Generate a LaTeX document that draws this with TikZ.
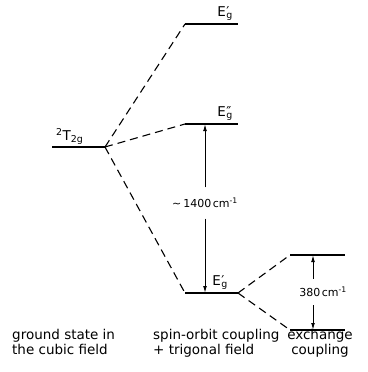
\documentclass[tikz,border=0pt]{standalone}
\usepackage{fontspec}
\setmainfont{DejaVu Sans}
\usetikzlibrary{positioning,arrows.meta,calc}
\newcommand{\Eg}[1]{E\kern0.5pt\rlap{#1}\textsubscript{g}}

\begin{document}
\begin{tikzpicture}[x=1pt,y=-1pt,>={Latex[length=7pt,width=3.8pt]},
    level/.style={line width=2.2pt},
    link/.style={line width=1.1pt,dash pattern=on 8pt off 5pt},
    gap/.style={line width=1pt},
    lbl/.style={font=\fontsize{13.5}{15}\selectfont,inner sep=1pt},
    val/.style={font=\fontsize{11}{13}\selectfont,inner sep=1pt},
    caption/.style={font=\fontsize{13.5}{15}\selectfont,align=left,inner sep=0pt}]
  \useasboundingbox (0,0) rectangle (367,372);
  % levels
  \coordinate (t0) at (52,147);  \coordinate (t1) at (105,147);
  \coordinate (a0) at (185,24);  \coordinate (a1) at (238,24);
  \coordinate (b0) at (185,124); \coordinate (b1) at (238,124);
  \coordinate (c0) at (185,293); \coordinate (c1) at (238,293);
  \coordinate (d0) at (290,255); \coordinate (d1) at (345,255);
  \coordinate (f0) at (290,330); \coordinate (f1) at (345,330);
  \foreach \p in {t,a,b,c,d,f} \draw[level] (\p0) -- (\p1);
  \draw[link] (t1) -- (a0);
  \draw[link] (t1) -- (b0);
  \draw[link] (t1) -- (c0);
  \draw[link] (c1) -- (d0);
  \draw[link] (c1) -- (f0);
  % level names
  \node[lbl,anchor=south west] (lt) at (55,146) {\textsuperscript{2}T\textsubscript{2g}};
  \node[lbl,anchor=south east] (la) at (234,22) {\Eg{′}};
  \node[lbl,anchor=south east] (lb) at (234,122) {\Eg{″}};
  \node[lbl,anchor=south east] (lc) at (229,291) {\Eg{′}};
  % splittings
  \node[val,minimum height=31pt] (w1) at (205,203) {∼\kern2pt1400\kern1.5pt cm\textsuperscript{-1}};
  \draw[gap,->] (w1.north) -- (w1.north |- b0);
  \draw[gap,->] (w1.south) -- (w1.south |- c0);
  \node[val,minimum height=26pt] (w2) at (323,292) {380\kern1.5pt cm\textsuperscript{-1}};
  \coordinate (ax) at (313,292);
  \draw[gap,->] (ax |- w2.north) -- (ax |- d0);
  \draw[gap,->] (ax |- w2.south) -- (ax |- f0);
  % captions
  \node[caption,anchor=north west] (g1) at (12,329) {ground state in\\the cubic field};
  \node[caption,anchor=north west] (g2) at (153,329) {spin-orbit coupling\\+ trigonal field};
  \node[caption,anchor=north,align=center] (g3) at (320,329) {exchange\\coupling};
\end{tikzpicture}
\end{document}
